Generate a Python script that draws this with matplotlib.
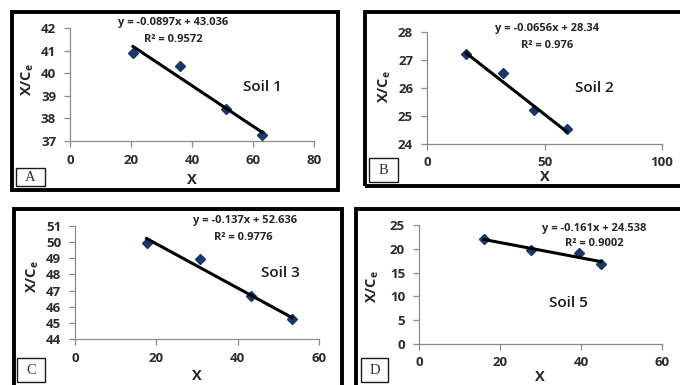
import matplotlib
matplotlib.use("Agg")
import matplotlib.pyplot as plt
from matplotlib.patches import Rectangle
import numpy as np

W, H = 680, 385

# Sorption data for each soil (X vs X/Ce) and the linear trend reported
soil_names = ["Soil 1", "Soil 2", "Soil 3", "Soil 5"]
panel_letters = ["A", "B", "C", "D"]

x_soil1 = [20.7, 36.1, 51.1, 63.1]
y_soil1 = [40.9, 40.33, 38.4, 37.27]
x_soil2 = [16.6, 32.2, 45.5, 59.4]
y_soil2 = [27.2, 26.52, 25.2, 24.52]
x_soil3 = [17.6, 30.7, 43.2, 53.4]
y_soil3 = [49.97, 48.95, 46.66, 45.24]
x_soil5 = [16.0, 27.7, 39.6, 44.9]
y_soil5 = [22.0, 19.75, 19.2, 16.8]

slopes = [-0.0897, -0.0656, -0.137, -0.161]
intercepts = [43.036, 28.34, 52.636, 24.538]
r_squared = ["0.9572", "0.976", "0.9776", "0.9002"]
equations = ["y = -0.0897x + 43.036", "y = -0.0656x + 28.34",
             "y = -0.137x + 52.636", "y = -0.161x + 24.538"]

x_ticks = [[0, 20, 40, 60, 80], [0, 50, 100], [0, 20, 40, 60], [0, 20, 40, 60]]
y_ticks = [[37, 38, 39, 40, 41, 42], [24, 25, 26, 27, 28],
           [44, 45, 46, 47, 48, 49, 50, 51], [0, 5, 10, 15, 20, 25]]

xs = [x_soil1, x_soil2, x_soil3, x_soil5]
ys = [y_soil1, y_soil2, y_soil3, y_soil5]

FONT = "Open Sans"
TICK_COLOR = "#2b2b2b"
AXIS_COLOR = "#8c8c8c"
MARKER_COLOR = "#1b3768"

plt.rcParams["font.family"] = [FONT, "DejaVu Sans"]

fig = plt.figure(figsize=(W / 100, H / 100), dpi=100)
fig.patch.set_facecolor("white")


def fx(px):
    return px / W


def fy(py):
    return 1 - py / H


# layout in pixels: frame box, axes box, annotation anchors
frames = [(12, 12, 338, 190), (365, 12, 684, 186), (14, 209, 342, 390), (356, 209, 684, 390)]
axes_boxes = [(70, 28, 314, 141), (427, 32, 662, 144), (75, 226, 319, 339), (419, 225, 662, 344)]
eq_pos = [(173, 23), (547, 29), (245, 221), (594, 228)]
r2_pos = [(173, 39), (547, 45), (243, 238), (594, 244)]
soil_pos = [(262, 87), (594, 88), (280, 273), (568, 303)]
letter_boxes = [(16, 168, 45, 186), (369, 158, 398, 182), (17, 358, 45, 382), (361, 358, 388, 382)]
xlabel_pos = [(192, 180), (545, 177), (197, 376), (540, 377)]
ylabel_pos = [(28, 80), (385, 87), (33, 277), (373, 287)]

for i in range(4):
    # panel frame
    l, t, r, b = frames[i]
    fig.patches.append(Rectangle((fx(l), fy(b)), fx(r - l), (b - t) / H,
                                 transform=fig.transFigure, fill=False,
                                 edgecolor="black", linewidth=2.8, zorder=0))

    l, t, r, b = axes_boxes[i]
    ax = fig.add_axes([fx(l), fy(b), fx(r - l), (b - t) / H])
    ax.set_xlim(x_ticks[i][0], x_ticks[i][-1])
    ax.set_ylim(y_ticks[i][0], y_ticks[i][-1])
    ax.set_xticks(x_ticks[i])
    ax.set_xticklabels([str(v) for v in x_ticks[i]], fontweight="bold",
                       fontsize=9.5, family=FONT, color=TICK_COLOR)
    ax.set_yticks(y_ticks[i])
    ax.set_yticklabels([str(v) for v in y_ticks[i]], fontweight="bold",
                       fontsize=9.5, family=FONT, color=TICK_COLOR)
    for s in ["top", "right"]:
        ax.spines[s].set_visible(False)
    for s in ["left", "bottom"]:
        ax.spines[s].set_color(AXIS_COLOR)
        ax.spines[s].set_linewidth(0.9)
    ax.tick_params(axis="both", direction="out", length=4, width=0.9,
                   color=AXIS_COLOR)
    ax.tick_params(axis="y", pad=6)
    ax.tick_params(axis="x", pad=5)
    ax.patch.set_alpha(0)

    # data points
    ax.plot(xs[i], ys[i], linestyle="none", marker="D", markersize=5.5,
            color=MARKER_COLOR, zorder=3, clip_on=False)
    # linear trend from the reported equation
    xl = np.array([min(xs[i]), max(xs[i])])
    ax.plot(xl, slopes[i] * xl + intercepts[i], color="black",
            linewidth=2.2, zorder=4, clip_on=False)

    # equation, R² and soil name
    fig.text(fx(eq_pos[i][0]), fy(eq_pos[i][1]), equations[i], ha="center",
             va="center", fontsize=8, fontweight="bold", family=FONT, color="#262626")
    fig.text(fx(r2_pos[i][0]), fy(r2_pos[i][1]), "R² = " + r_squared[i], ha="center",
             va="center", fontsize=8, fontweight="bold", family=FONT, color="#262626")
    fig.text(fx(soil_pos[i][0]), fy(soil_pos[i][1]), soil_names[i], ha="center",
             va="center", fontsize=11, fontweight="semibold", family=FONT, color="#1a1a1a")

    # axis titles
    fig.text(fx(xlabel_pos[i][0]), fy(xlabel_pos[i][1]), "X", ha="center",
             va="center", fontsize=10.5, fontweight="bold", family=FONT, color="#262626")
    fig.text(fx(ylabel_pos[i][0]), fy(ylabel_pos[i][1]), r"X/C$_\mathregular{e}$",
             ha="center", va="center", rotation=90, fontsize=10.5,
             fontweight="bold", family=FONT, color="#262626")

    # panel letter in a small box
    l, t, r, b = letter_boxes[i]
    fig.patches.append(Rectangle((fx(l), fy(b)), fx(r - l), (b - t) / H,
                                 transform=fig.transFigure, fill=False,
                                 edgecolor="#1a1a1a", linewidth=1.0))
    fig.text(fx((l + r) / 2), fy((t + b) / 2 + 0.5), panel_letters[i], ha="center",
             va="center", fontsize=10.5, family="Liberation Serif", color="#333333")

fig.savefig("out.png", dpi=100, facecolor="white")
